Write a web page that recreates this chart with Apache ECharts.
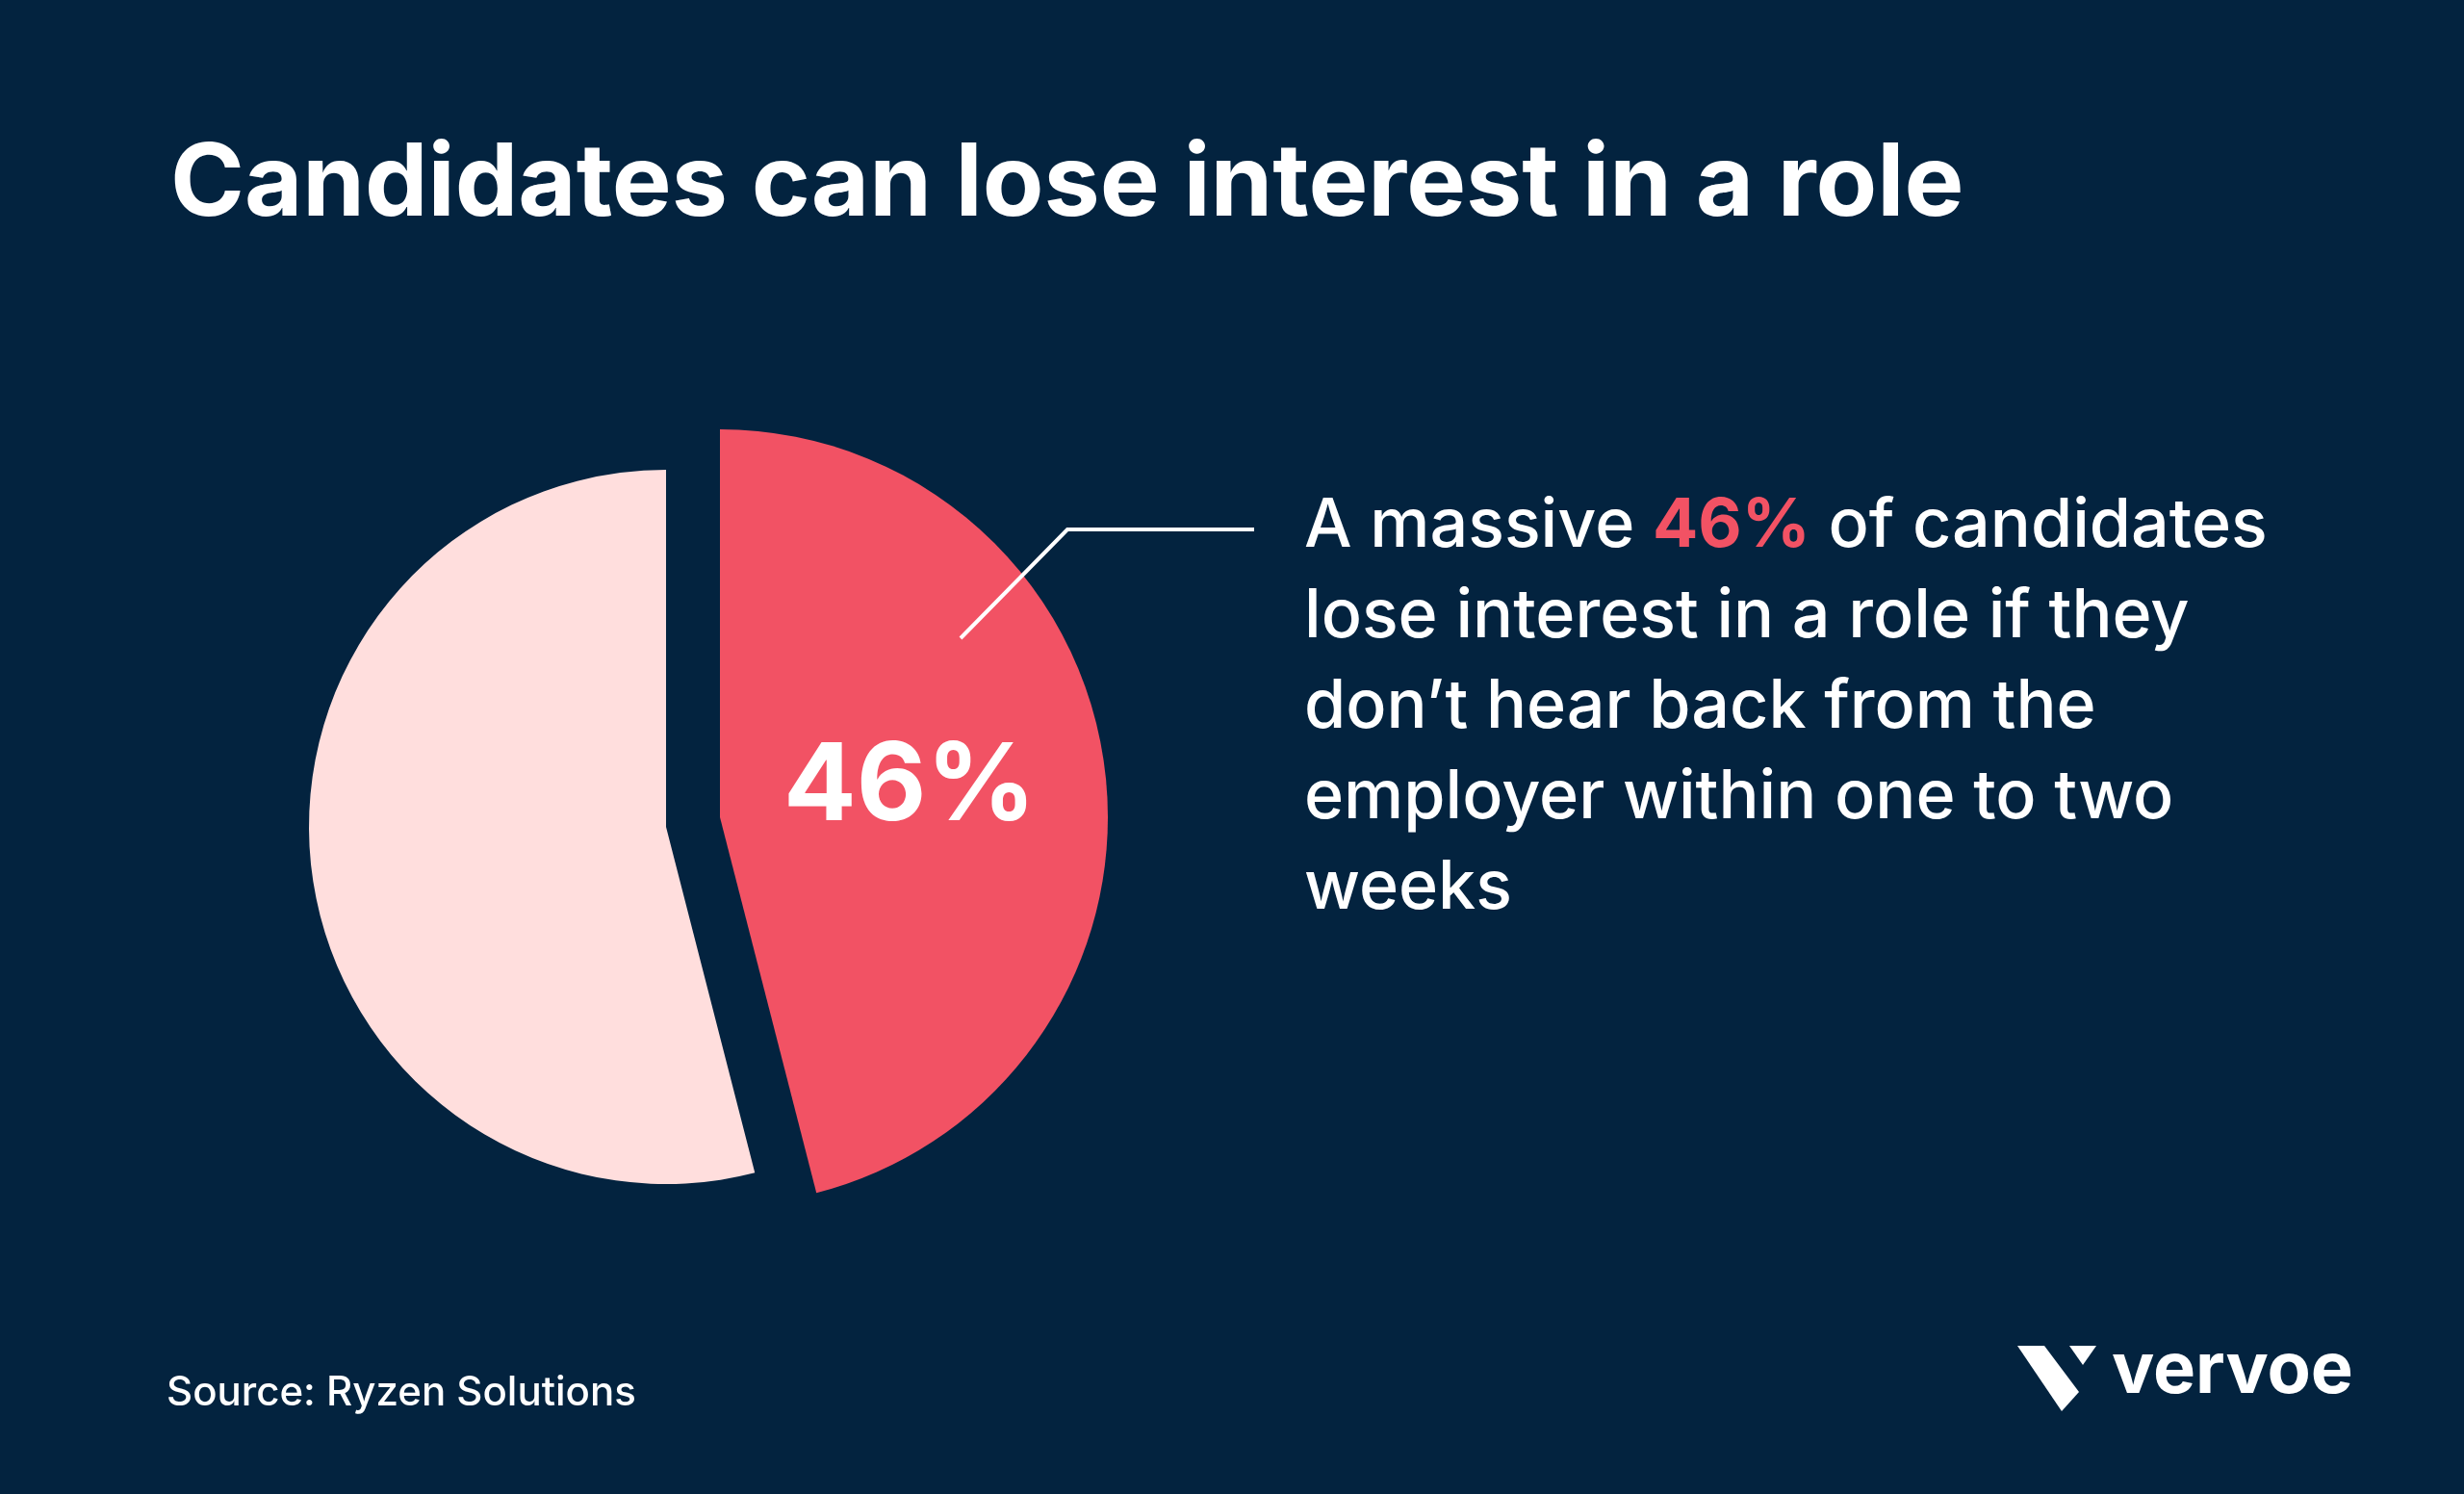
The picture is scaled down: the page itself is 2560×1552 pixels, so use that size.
<!DOCTYPE html>
<html>
<head>
<meta charset="utf-8">
<script src="https://cdn.jsdelivr.net/npm/echarts@6/dist/echarts.min.js"></script>
<style>html,body{margin:0;padding:0;background:#03233f;}#chart{width:2560px;height:1552px;}</style>
</head>
<body>
<div id="chart"></div>
<script>
// 数据
var categories = ['Lose interest', 'Stay interested'];
var values = [46, 54];
var colors = ['#f25264', '#ffdedd'];
var titleText = 'Candidates can lose interest in a role';
var sourceText = 'Source: Ryzen Solutions';

var chart = echarts.init(document.getElementById('chart'));
var font = 'Inter';

function pieData(keep) {
	return categories.map(function (c, i) {
		return {
			name: c,
			value: values[i],
			itemStyle: { color: i === keep ? colors[i] : 'rgba(0,0,0,0)' }
		};
	});
}

var option = {
	backgroundColor: '#03233f',
	title: {
		text: titleText,
		left: 172, top: 136,
		textStyle: { color: '#fff', fontFamily: font, fontWeight: 'bold', fontSize: 104 }
	},
	series: [{
		type: 'pie', silent: true, startAngle: 90, clockwise: true,
		center: [692, 859], radius: [0, 371],
		label: { show: false }, labelLine: { show: false },
		data: pieData(1)
	}, {
		type: 'pie', silent: true, startAngle: 90, clockwise: true,
		center: [748, 849], radius: [0, 403],
		label: { show: false }, labelLine: { show: false },
		data: pieData(0)
	}],
	graphic: [{
		type: 'polyline', z: 100,
		shape: { points: [[998, 663], [1109, 550], [1303, 550]] },
		style: { stroke: '#fff', lineWidth: 4, fill: null }
	}, {
		type: 'text', left: 814, top: 762, z: 100,
		style: { text: values[0] + '%', fill: '#fff', font: 'bold 112px ' + font, letterSpacing: -4 }
	}, {
		type: 'text', left: 1355, top: 512, z: 100,
		style: {
			text: '{n|A massive }{r|' + values[0] + '%}{n| of candidates}\n{n|lose interest in a role if they}\n{n|don\u2019t hear back from the}\n{n|employer within one to two}\n{n|weeks}',
			rich: {
				n: { fill: '#fff', fontFamily: font, fontWeight: 500, fontSize: 70, lineHeight: 94 },
				r: { fill: '#f25264', fontFamily: font, fontWeight: 'bold', fontSize: 70, lineHeight: 94 }
			}
		}
	}, {
		type: 'text', left: 173, top: 1426, z: 100,
		style: { text: sourceText, fill: '#fff', font: '500 42px ' + font }
	}, {
		type: 'polygon', z: 100,
		shape: { points: [[2096, 1398], [2124, 1398], [2160, 1446], [2142, 1466]] },
		style: { fill: '#fff' }
	}, {
		type: 'polygon', z: 100,
		shape: { points: [[2150, 1398], [2178, 1398], [2164, 1418]] },
		style: { fill: '#fff' }
	}, {
		type: 'text', left: 2194, top: 1388, z: 100,
		style: { text: 'vervoe', fill: '#fff', font: 'bold 74px ' + font }
	}]
};
chart.setOption(option);
</script>
</body>
</html>
